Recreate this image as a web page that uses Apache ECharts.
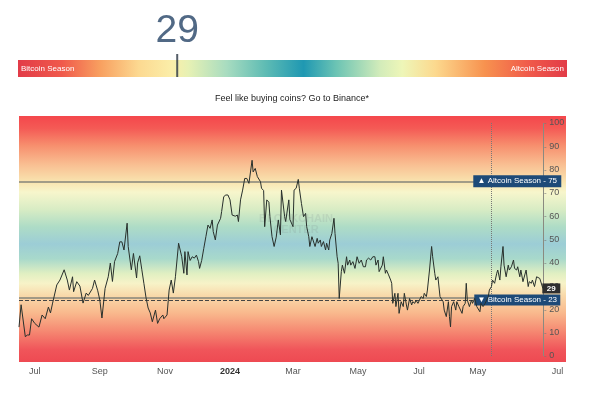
<!DOCTYPE html>
<html>
<head>
<meta charset="utf-8" />
<title>Altcoin Season Index</title>
<script src="https://cdn.jsdelivr.net/npm/echarts@6/dist/echarts.min.js"></script>
<style>
  html, body { margin: 0; padding: 0; background: #fff; }
</style>
</head>
<body>
<div id="main" style="width:600px;height:399px;"></div>
<script type="text/javascript">
// day offsets from 2023-06-16
var dayOffsets = [0,2,6,8,10,12,15,19,22,25,28,30,32,36,39,43,46,48,51,52,55,58,61,64,66,70,72,75,77,79,82,85,87,89,91,94,96,98,100,103,104,107,109,112,113,115,117,119,121,123,125,127,130,132,134,137,138,141,142,143,145,147,149,152,153,155,157,158,160,161,163,165,167,169,171,172,174,176,178,180,182,184,185,187,189,192,193,195,197,199,201,203,206,208,209,211,213,215,217,219,220,222,223,225,227,230,231,233,234,236,238,239,241,243,245,247,249,250,253,254,257,258,261,262,264,266,267,269,271,273,274,276,277,279,280,282,284,285,287,288,290,292,293,295,296,298,300,301,303,304,305,307,308,310,312,313,315,316,318,320,322,324,326,328,330,331,333,335,337,339,340,342,343,346,347,349,350,352,354,355,356,358,359,361,362,364,366,367,369,370,372,374,375,377,378,380,381,383,385,386,388,389,391,393,394,396,397,399,401,402,404,405,407,409,410,411,412,414,416,417,419,420,422,423,425,426,427,429,431,432,434,436,437,439,440,442,444,445,447,448,450,451,453,455,456,458,459,461,462,464,466,467,469,471,472,474,475,477,478,480,481,483,485,486,488,489,491,493,494,496,497,499];
var indexValues = [12.4,22,8.3,9,9,16,14,12.4,17.6,16,21,18.5,22.7,30.5,32.6,37,32.6,28.3,34,27.6,31.9,30,22.7,27,26,29,32.6,28,24,16.3,29,34,39.9,32,40.5,44,49,49,45.5,57,47,37,44,33.5,40,43,37,31,25,20.6,18.5,14.7,19.7,14,16,17.6,16,17.6,17.6,28.3,32.6,27,34,48.4,48.4,42.6,35.5,44.8,34.8,44.8,41,42.6,42,43.3,40.5,37.6,41,46.2,51.2,56.2,54.8,58.4,53.4,49.8,56.2,59.1,62,68.4,69.1,69.1,67,60.5,60,60.5,57.7,67,71.2,76.2,76.2,74.1,74.1,84,79,80.5,77,74.8,72,71,55.5,67,66,59.8,51.2,47,51,58.4,52,71.2,59.8,57.7,67,58.6,55.5,71.2,72,75.8,72,65.5,59.8,61.2,55.5,51.2,47,51.2,49.8,47,50.5,48.4,49.8,47,49.1,45.5,48.4,45.5,49.8,52.6,59.1,52.6,42.6,39.8,24.7,36.2,39,35.5,42.6,39,41.2,39,40.5,37.6,42.6,39.8,41.2,38.3,38.3,41.2,42,41.2,42.6,42.6,39,41.2,36.2,39,42.6,35.5,36.9,34.8,32.6,31.2,22.6,26.9,21.2,26.9,18.3,23.3,21.2,26.9,21.9,19.7,24.7,21.9,23.3,22.6,24,22.6,23.3,25.5,24.7,26.9,25.5,28.3,36.9,47,42.6,35.5,32.6,34,25.5,24.7,23.3,19.7,16.9,23.3,16.9,12.5,21.2,23.3,19.7,23.3,21.2,21.2,18.3,21.2,22.6,31.2,24,21.2,24,22.6,24.7,21.2,21.9,19,22.6,21.2,22.6,22.6,25.5,28.3,29.8,32.6,31.2,35.5,36.9,32.6,38.3,47,39,34,39,36.9,38.3,41.2,37.6,36.9,38.3,34,36.9,31.9,31.2,36.9,29.8,31.9,31.2,32.6,29.8,34,34.8,33.3,32.6,29];

var xTickDays = [15, 77, 139, 201, 261, 323, 381, 437, 513];
var xTickLabels = ['Jul', 'Sep', 'Nov', '2024', 'Mar', 'May', 'Jul', 'May', 'Jul'];

var current = 29;
var altcoinLevel = 75;
var bitcoinLevel = 25;
var bitcoinMark = 24;
var bitcoinLabel = 23;
var lastDay = 499.5;
var cursorDay = 450;
var boxDay = 474.6;
var currentBoxDay = 507;

var font = 'Liberation Sans, Arial, sans-serif';

var seriesData = dayOffsets.map(function (d, i) { return [d, indexValues[i]]; });

var bgGradient = new echarts.graphic.LinearGradient(0, 0, 0, 1, [
  { offset: 0, color: '#f4474c' },
  { offset: 0.05, color: '#f45a55' },
  { offset: 0.12, color: '#f78f6e' },
  { offset: 0.2, color: '#f9c093' },
  { offset: 0.27, color: '#f9e5b0' },
  { offset: 0.31, color: '#f7f6cc' },
  { offset: 0.38, color: '#d8ecc4' },
  { offset: 0.45, color: '#aedcc6' },
  { offset: 0.52, color: '#9ccdd6' },
  { offset: 0.58, color: '#a8d9cb' },
  { offset: 0.64, color: '#e0efc2' },
  { offset: 0.68, color: '#f7f3c8' },
  { offset: 0.73, color: '#f9d9aa' },
  { offset: 0.8, color: '#f9b98d' },
  { offset: 0.88, color: '#f58570' },
  { offset: 0.95, color: '#f0555a' },
  { offset: 1, color: '#ee4a52' }
]);

var barGradient = new echarts.graphic.LinearGradient(0, 0, 1, 0, [
  { offset: 0, color: '#e23b48' },
  { offset: 0.08, color: '#f0594b' },
  { offset: 0.15, color: '#f8a060' },
  { offset: 0.22, color: '#fcd991' },
  { offset: 0.28, color: '#fbeea9' },
  { offset: 0.31, color: '#e7f1b4' },
  { offset: 0.38, color: '#a8dcc0' },
  { offset: 0.45, color: '#5fbcb4' },
  { offset: 0.52, color: '#1f98b2' },
  { offset: 0.58, color: '#6cc4b4' },
  { offset: 0.66, color: '#d3ecba' },
  { offset: 0.7, color: '#eef6b8' },
  { offset: 0.76, color: '#fcd98e' },
  { offset: 0.85, color: '#f7924f' },
  { offset: 0.93, color: '#f05a4a' },
  { offset: 1, color: '#e23b48' }
]);

var myChart = echarts.init(document.getElementById('main'));

var option = {
  animation: false,
  textStyle: { fontFamily: font },
  graphic: [
    {
      type: 'rect', z: -10, silent: true,
      shape: { x: 19, y: 116, width: 547, height: 246 },
      style: { fill: bgGradient }
    },
    {
      type: 'text', left: 21, top: 65, z: 10,
      style: { text: 'Bitcoin Season', fill: '#fff', font: '8px ' + font }
    },
    {
      type: 'text', right: 36, top: 65, z: 10,
      style: { text: 'Altcoin Season', fill: '#fff', font: '8px ' + font, textAlign: 'right' }
    },
    {
      type: 'text', x: 292, y: 99, z: 10,
      style: {
        text: 'Feel like buying coins? Go to Binance*', fill: '#222',
        font: '9px ' + font, textAlign: 'center', textVerticalAlign: 'middle'
      }
    },
    {
      type: 'text', x: 296, y: 224, z: 1,
      style: {
        text: 'BLOCKCHAIN\nCENTER', fill: 'rgba(110,120,130,0.14)',
        font: 'bold 11px ' + font, textAlign: 'center', textVerticalAlign: 'middle'
      }
    }
  ],
  grid: [
    { left: 19, right: 34, top: 123, bottom: 43 },
    { left: 18, right: 33, top: 60, height: 17, show: true, borderWidth: 0, backgroundColor: barGradient }
  ],
  xAxis: [
    {
      type: 'value', gridIndex: 0, min: 0, max: 521,
      axisLine: { show: false },
      axisTick: { show: false },
      splitLine: { show: false },
      axisLabel: {
        customValues: xTickDays,
        margin: 11,
        fontSize: 9,
        color: '#555',
        formatter: function (v) {
          var t = xTickLabels[xTickDays.indexOf(v)];
          return t === '2024' ? '{b|' + t + '}' : t;
        },
        rich: { b: { fontSize: 9, fontWeight: 'bold', color: '#333' } }
      }
    },
    { type: 'value', gridIndex: 1, min: 0, max: 100, show: false }
  ],
  yAxis: [
    {
      type: 'value', gridIndex: 0, min: 0, max: 100, interval: 10,
      position: 'right', offset: -23,
      axisLine: { show: false },
      axisTick: { show: false },
      splitLine: { show: false },
      axisLabel: {
        fontSize: 9, color: '#555', margin: 1,
        formatter: function (v) { return '{t|-} ' + v; },
        rich: { t: { color: '#777', fontSize: 8 } }
      }
    },
    { type: 'value', gridIndex: 1, min: 0, max: 1, show: false }
  ],
  series: [
    {
      type: 'line',
      xAxisIndex: 0, yAxisIndex: 0,
      data: seriesData,
      symbol: 'none',
      z: 5,
      lineStyle: { color: '#28302c', width: 1 },
      markLine: {
        silent: true,
        symbol: ['none', 'none'],
        label: { show: false },
        data: [
          { xAxis: lastDay, lineStyle: { color: '#8a8a80', width: 1, type: 'solid' } },
          [{ coord: [0, altcoinLevel], lineStyle: { color: '#85857a', width: 1.5, type: 'solid' } }, { coord: [lastDay, altcoinLevel] }],
          [{ coord: [0, bitcoinLevel], lineStyle: { color: '#85857a', width: 1.5, type: 'solid' } }, { coord: [lastDay, bitcoinLevel] }],
          [{ coord: [0, bitcoinMark], lineStyle: { color: '#444', width: 1, type: 'dashed' } }, { coord: [lastDay, bitcoinMark] }],
          { xAxis: cursorDay, lineStyle: { color: '#777', width: 1, type: 'dotted' } }
        ]
      },
      markPoint: {
        silent: true,
        data: [
          {
            coord: [boxDay, altcoinLevel], symbol: 'rect', symbolSize: [88, 12],
            itemStyle: { color: '#1d4a78' },
            label: { show: true, color: '#fff', fontSize: 8, formatter: '\u25B2 Altcoin Season - ' + altcoinLevel }
          },
          {
            coord: [boxDay, bitcoinMark], symbol: 'rect', symbolSize: [86, 11],
            itemStyle: { color: '#1d4a78' },
            label: { show: true, color: '#fff', fontSize: 8, formatter: '\u25BC Bitcoin Season - ' + bitcoinLabel }
          },
          {
            coord: [currentBoxDay, current], symbol: 'rect', symbolSize: [18, 10],
            itemStyle: { color: '#2e2e2e' },
            label: { show: true, color: '#fff', fontSize: 8, fontWeight: 'bold', formatter: String(current) }
          }
        ]
      }
    },
    {
      type: 'scatter',
      xAxisIndex: 1, yAxisIndex: 1,
      data: [[current, 0.5]],
      symbol: 'rect',
      symbolSize: [2, 23],
      symbolOffset: [0, -3],
      itemStyle: { color: '#2b3442' },
      label: {
        show: true, position: 'top', distance: 3,
        formatter: function (p) { return p.value[0]; },
        fontSize: 39, color: '#264466', fontFamily: font
      }
    }
  ]
};

myChart.setOption(option);
</script>
</body>
</html>
